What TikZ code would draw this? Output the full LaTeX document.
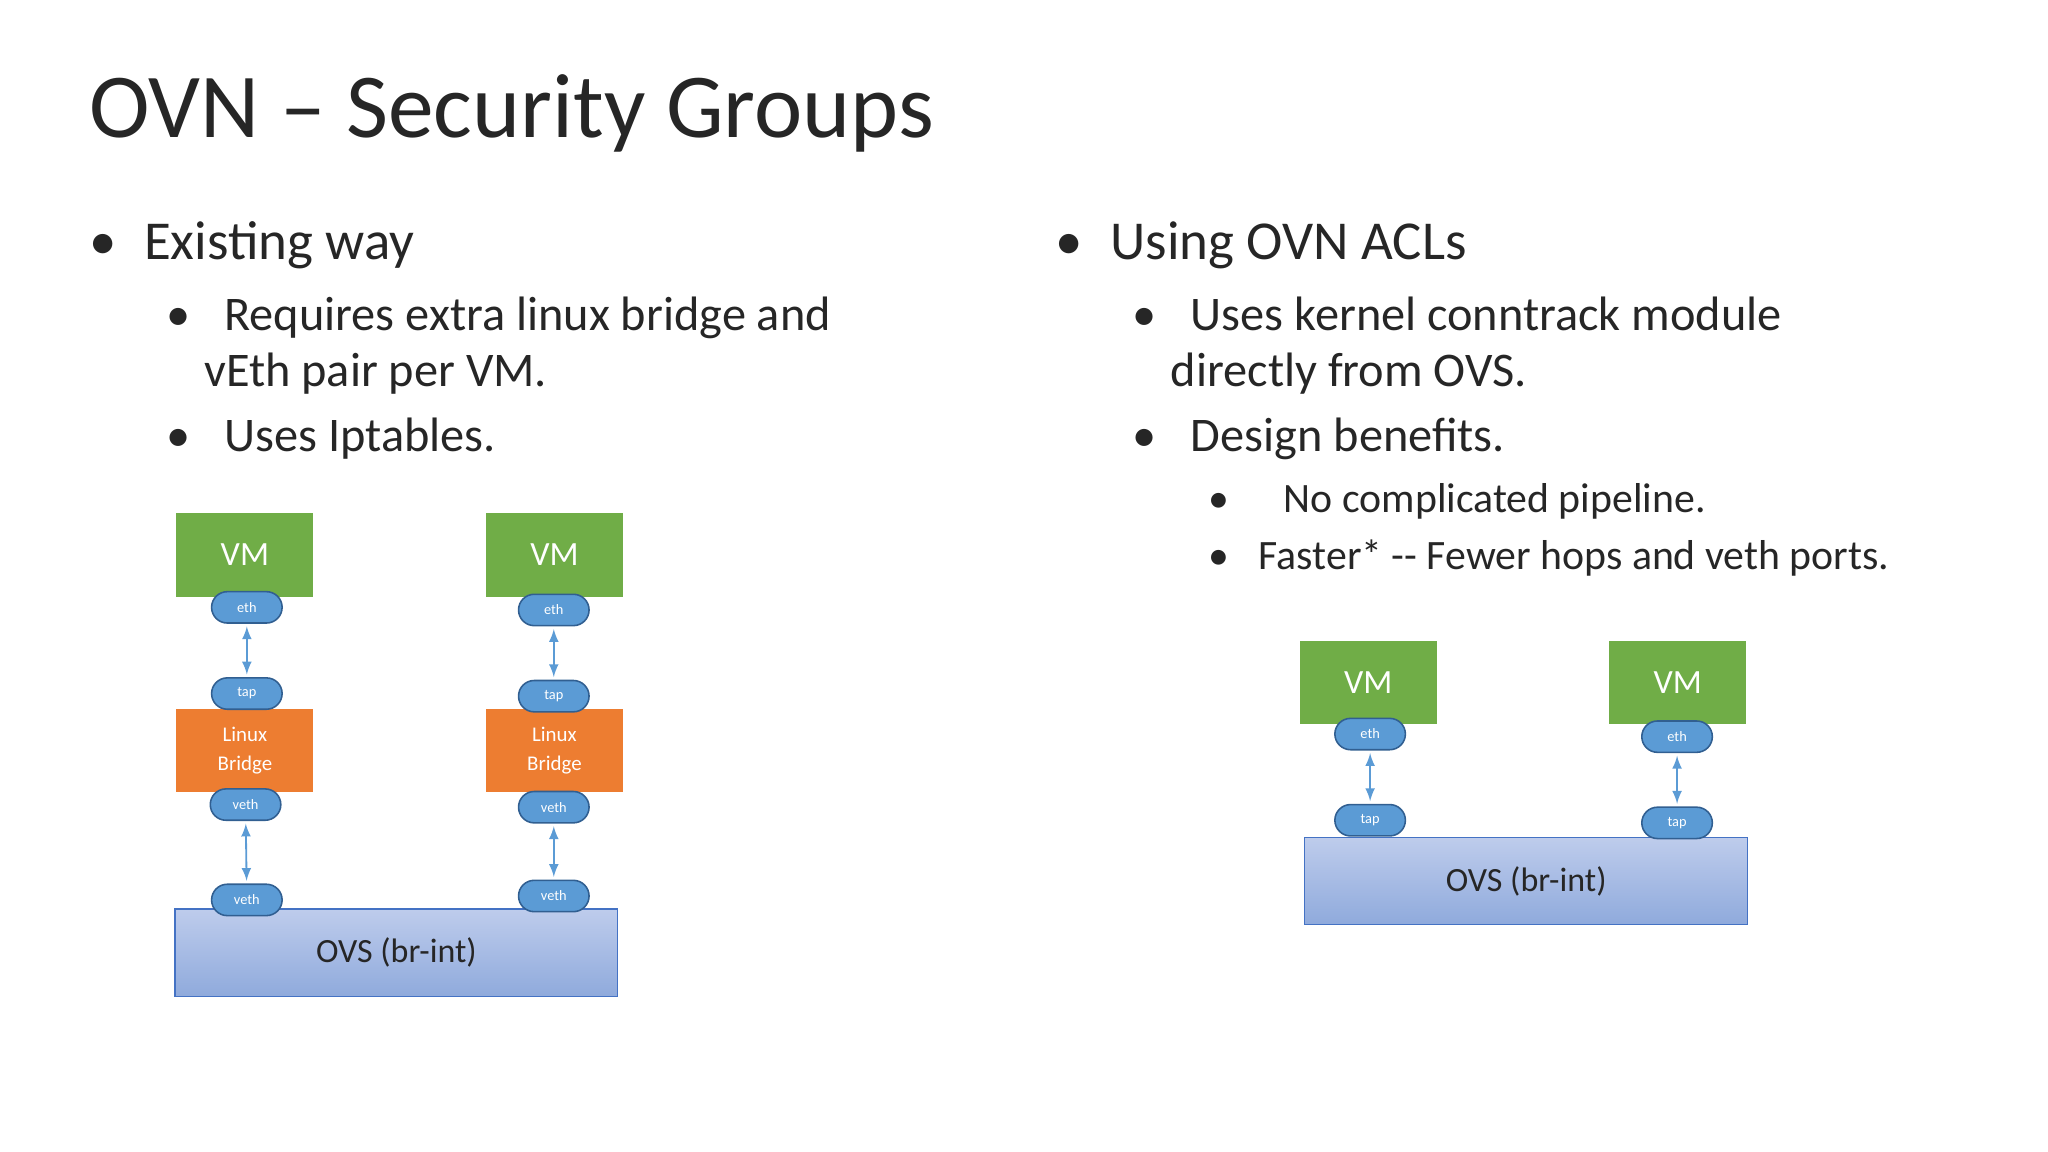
\documentclass[tikz,border=0pt]{standalone}
\usepackage{fontspec}
\setmainfont{Carlito}
\begin{document}
\begin{tikzpicture}[x=0.5pt,y=-0.5pt,
 txt/.style={anchor=base west,inner sep=0,text=black!85},
 l1/.style={txt,font=\fontsize{21}{24}\selectfont},
 l2/.style={txt,font=\fontsize{18.5}{22}\selectfont},
 l3/.style={txt,font=\fontsize{16}{19}\selectfont},
 vm/.style={draw=none,fill={rgb,255:red,112;green,173;blue,71},minimum width=52.5pt,minimum height=32pt,text=white,font=\fontsize{13}{15}\selectfont,inner sep=0},
 lb/.style={draw=none,fill={rgb,255:red,237;green,125;blue,49},minimum width=52.5pt,minimum height=31.5pt,text=white,font=\fontsize{8}{10}\selectfont,align=center,inner sep=0},
 pill/.style={draw={rgb,255:red,49;green,95;blue,145},line width=0.6pt,fill={rgb,255:red,91;green,155;blue,213},rounded corners=6pt,minimum width=27pt,minimum height=12pt,text=white,font=\fontsize{5.5}{6}\selectfont,inner sep=0},
 ovs/.style={draw={rgb,255:red,68;green,114;blue,196},line width=0.5pt,top color={rgb,255:red,190;green,204;blue,236},bottom color={rgb,255:red,143;green,170;blue,220},minimum width=169.5pt,minimum height=33.5pt,font=\fontsize{13}{15}\selectfont,text=black!85,inner sep=0},
 ar/.style={<->,>=latex,draw={rgb,255:red,91;green,155;blue,213},line width=0.7pt,shorten >=1pt,shorten <=1pt}]
\useasboundingbox (0,0) rectangle (1568,882);
\node[txt,font=\fontsize{35}{40}\selectfont] (title) at (68,105) {OVN -- Security Groups};
% left text
\node[l1] (b1) at (68,199) {•\hspace{0.5em}Existing way};
\node[l2] (b2) at (127,253) {•\hspace{0.7em}Requires extra linux bridge and};
\node[l2] (b3) at (156,296) {vEth pair per VM.};
\node[l2] (b4) at (127,346) {•\hspace{0.7em}Uses Iptables.};
% right text
\node[l1] (c1) at (808,199) {•\hspace{0.5em}Using OVN ACLs};
\node[l2] (c2) at (867,253) {•\hspace{0.7em}Uses kernel conntrack module};
\node[l2] (c3) at (896,296) {directly from OVS.};
\node[l2] (c4) at (867,346) {•\hspace{0.7em}Design benefits.};
\node[l3] (c5) at (925,392) {•\hspace{1.3em}No complicated pipeline.};
\node[l3] (c6) at (925,436) {•\hspace{0.7em}Faster* -{}- Fewer hops and veth ports.};
% left diagram
\node[ovs] (ovsL) at (303.5,729.5) {OVS (br-int)};
\node[vm] (vm1) at (187.5,425) {VM};
\node[lb] (lb1) at (187.5,574.5) {Linux\\[1pt]Bridge};
\node[pill] (e1) at (189,465) {eth};
\node[pill] (t1) at (189,531) {tap};
\node[pill] (v1) at (188,616) {veth};
\node[pill] (w1) at (189,689) {veth};
\node[vm] (vm2) at (424.5,425) {VM};
\node[lb] (lb2) at (424.5,574.5) {Linux\\[1pt]Bridge};
\node[pill] (e2) at (424,467) {eth};
\node[pill] (t2) at (424,533) {tap};
\node[pill] (v2) at (424,618) {veth};
\node[pill] (w2) at (424,686) {veth};
\draw[ar] (e1) -- (t1);
\draw[ar] (v1) -- (w1);
\draw[ar] (e2) -- (t2);
\draw[ar] (v2) -- (w2);
% right diagram
\node[ovs] (ovsR) at (1168.5,674.5) {OVS (br-int)};
\node[vm] (vm3) at (1047.5,522.5) {VM};
\node[vm] (vm4) at (1284.5,522.5) {VM};
\node[pill] (e3) at (1049,562) {eth};
\node[pill] (t3) at (1049,628) {tap};
\node[pill] (e4) at (1284,564) {eth};
\node[pill] (t4) at (1284,630) {tap};
\draw[ar] (e3) -- (t3);
\draw[ar] (e4) -- (t4);
\end{tikzpicture}
\end{document}
